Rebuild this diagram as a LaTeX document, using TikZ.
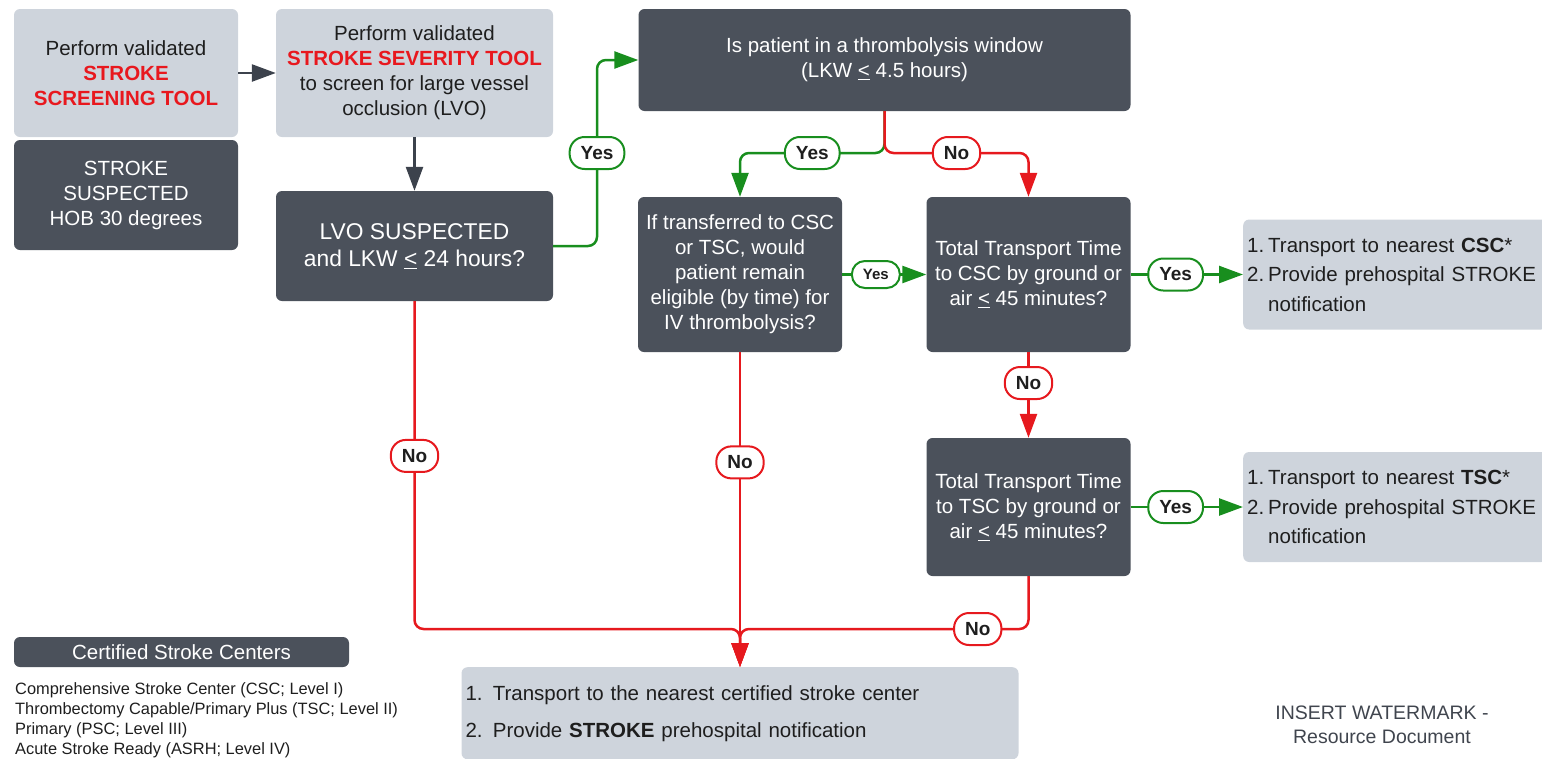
\documentclass[tikz,border=0pt]{standalone}
\usepackage{fontspec}
\setmainfont{Liberation Sans}
\usetikzlibrary{arrows.meta}
\definecolor{boxdark}{RGB}{75,81,91}
\definecolor{boxlight}{RGB}{206,212,220}
\definecolor{txtdark}{RGB}{30,30,30}
\definecolor{toolred}{RGB}{232,24,30}
\definecolor{yesgreen}{RGB}{24,142,30}
\definecolor{nored}{RGB}{230,25,30}
\definecolor{flowgray}{RGB}{60,66,76}
\definecolor{marktxt}{RGB}{64,69,78}
\newcommand{\redtool}[1]{\textcolor{toolred}{\bfseries #1}}
\newcommand{\ltq}{\underline{<}}

\begin{document}
\begin{tikzpicture}[x=1pt,y=-1pt,
            dark box/.style={rectangle,rounded corners=6pt,fill=boxdark,text=white,align=center,
                             inner sep=4pt,font=\fontsize{20.5}{25}\selectfont},
            light box/.style={dark box,fill=boxlight,text=txtdark},
            flow line/.style={draw=flowgray,line width=2.5pt,-{Triangle[length=24pt,width=17pt]}},
            yes line/.style={flow line,draw=yesgreen,rounded corners=9pt},
            no line/.style={flow line,draw=nored,rounded corners=9pt},
            tag/.style={rectangle,rounded corners=15pt,fill=white,line width=2pt,text=txtdark,
                        font=\bfseries\fontsize{19}{19}\selectfont,minimum height=32pt,
                        inner xsep=11pt,inner ysep=0pt},
            yes tag/.style={tag,draw=yesgreen},
            no tag/.style={tag,draw=nored},
            small tag/.style={yes tag,rounded corners=13pt,minimum height=27pt,
                              font=\bfseries\fontsize{15}{15}\selectfont}]
            \useasboundingbox (0,0) rectangle (1542,758);
            %==================
            \node[light box,minimum width=224pt,minimum height=128pt] (scrn) at (126,73)
                {Perform validated\\\redtool{STROKE}\\\redtool{SCREENING TOOL}};
            \node[dark box,minimum width=224pt,minimum height=110pt] (susp) at (126,195)
                {STROKE\\SUSPECTED\\HOB 30 degrees};
            \node[light box,minimum width=277pt,minimum height=128pt] (sev) at (414.5,73)
                {Perform validated\\\redtool{STROKE SEVERITY TOOL}\\to screen for large vessel\\occlusion (LVO)};
            \node[dark box,minimum width=277pt,minimum height=110pt,font=\fontsize{22.8}{27}\selectfont] (lvo) at (414.5,246)
                {LVO SUSPECTED\\and LKW \ltq{} 24 hours?};
            %==================
            \node[dark box,minimum width=492pt,minimum height=102pt] (win) at (884.5,60)
                {Is patient in a thrombolysis window\\(LKW \ltq{} 4.5 hours)};
            \node[dark box,minimum width=204pt,minimum height=155pt] (elig) at (740,274.5)
                {If transferred to CSC\\or TSC, would\\patient remain\\eligible (by time) for\\IV thrombolysis?};
            \node[dark box,minimum width=204pt,minimum height=155pt] (csc) at (1028.5,274.5)
                {Total Transport Time\\to CSC by ground or\\air \ltq{} 45 minutes?};
            \node[dark box,minimum width=204pt,minimum height=138pt] (tsc) at (1028.5,507)
                {Total Transport Time\\to TSC by ground or\\air \ltq{} 45 minutes?};
            %==================
            \node[light box,anchor=west,align=left,text width=296pt,minimum height=110pt,
                  font=\fontsize{20.5}{29.5}\selectfont] (tocsc) at (1243,274.5)
                {\makebox[21pt][l]{1.}Transport to nearest \textbf{CSC}*\\
                 \makebox[21pt][l]{2.}Provide prehospital STROKE\\
                 \hspace*{21pt}notification};
            \node[light box,anchor=west,align=left,text width=296pt,minimum height=110pt,
                  font=\fontsize{20.5}{29.5}\selectfont] (totsc) at (1243,507)
                {\makebox[21pt][l]{1.}Transport to nearest \textbf{TSC}*\\
                 \makebox[21pt][l]{2.}Provide prehospital STROKE\\
                 \hspace*{21pt}notification};
            \node[light box,anchor=north,align=left,text width=549pt,minimum height=92pt,
                  font=\fontsize{20.5}{37}\selectfont] (nearest) at (elig.south |- 0,667)
                {1. Transport to the nearest certified stroke center\\
                 2. Provide \textbf{STROKE} prehospital notification};
            %==================
            \node[dark box,minimum width=335pt,minimum height=30pt,inner ysep=0pt] (lvlhead) at (181.5,652)
                {Certified Stroke Centers};
            \node[anchor=north west,align=left,inner sep=0pt,text=txtdark,
                  font=\fontsize{16.4}{20}\selectfont] (lvls) at (15,682)
                {Comprehensive Stroke Center (CSC; Level I)\\
                 Thrombectomy Capable/Primary Plus (TSC; Level II)\\
                 Primary (PSC; Level III)\\
                 Acute Stroke Ready (ASRH; Level IV)};
            \node[align=center,text=marktxt,font=\fontsize{19.5}{24}\selectfont] (wmark) at (1382,725)
                {INSERT WATERMARK -\\Resource Document};
            % ===================
            \coordinate (bend) at (597,60);
            \coordinate (split) at (win.south |- 0,153);
            \coordinate (join) at (nearest.north |- 0,629);
            % ===================
            \draw[flow line] (scrn.east) -- (sev.west);
            \draw[flow line] (sev.south) -- (lvo.north);
            \draw[yes line] (lvo.east) -| node[yes tag,pos=0.75] (t1) {Yes} (bend) -- (win.west);
            \draw[yes line] (win.south) -- (split) -| node[yes tag,pos=0.25] (t2) {Yes} (elig.north);
            \draw[no line] (win.south) -- (split) -| node[no tag,pos=0.25] (t3) {No} (csc.north);
            \draw[yes line] (elig.east) -- node[small tag,pos=0.4] (t4) {Yes} (csc.west);
            \draw[yes line] (csc.east) -- node[yes tag,pos=0.4] (t5) {Yes} (tocsc.west);
            \draw[no line] (csc.south) -- node[no tag,pos=0.36] (t6) {No} (tsc.north);
            \draw[yes line] (tsc.east) -- node[yes tag,pos=0.4] (t7) {Yes} (totsc.west);
            % ===================
            \draw[no line] (lvo.south) |- node[no tag,pos=0.236] (t8) {No} (join) -- (nearest.north);
            \draw[no line] (elig.south) -- node[no tag,pos=0.35] (t9) {No} (nearest.north);
            \draw[no line] (tsc.south) |- node[no tag,pos=0.588] (t10) {No} (join) -- (nearest.north);
        \end{tikzpicture}
\end{document}
